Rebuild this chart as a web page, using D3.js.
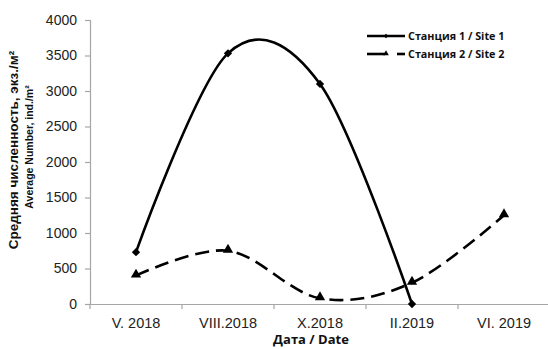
<!DOCTYPE html>
<html>
<head>
<meta charset="utf-8">
<script src="https://cdn.jsdelivr.net/npm/d3@7"></script>
<style>
  body { margin: 0; background: #fff; }
  svg { display: block; }
</style>
</head>
<body>
<svg id="chart" width="548" height="349"></svg>
<script>
// Sampling dates and mean abundance at two sites (ind./m²)
const dates = ["V. 2018", "VIII.2018", "X.2018", "II.2019", "VI. 2019"];
const site1 = [730, 3530, 3100, 0, null];
const site2 = [400, 750, 80, 300, 1250];
const yTicks = [0, 500, 1000, 1500, 2000, 2500, 3000, 3500, 4000];
const seriesNames = ["Станция 1 / Site 1", "Станция 2 / Site 2"];

const svg = d3.select("#chart");
const m = { left: 90 };

const x = d3.scaleBand().domain(dates).range([m.left, 550]);
const y = d3.scaleLinear().domain([0, 4000]).range([304, 20]);

const axisColor = "#a6a6a6";
const labelFont = "Liberation Sans, Arial, sans-serif";

// Y axis
const yAxis = svg.append("g").attr("transform", `translate(${m.left},0)`)
  .call(d3.axisLeft(y).tickValues(yTicks).tickSize(5).tickPadding(8).tickFormat(d3.format("d")));
yAxis.select(".domain").attr("stroke", axisColor).attr("stroke-width", 1.2);
yAxis.selectAll(".tick line").attr("stroke", axisColor).attr("stroke-width", 1.2);
yAxis.selectAll(".tick text").attr("font-family", labelFont).attr("font-size", 14).attr("fill", "#222");

// X axis: ticks between categories
const xAxis = svg.append("g").attr("transform", `translate(0,${y(0)})`)
  .call(d3.axisBottom(x).tickSize(0).tickPadding(14));
xAxis.select(".domain").attr("stroke", axisColor).attr("stroke-width", 1.2);
xAxis.selectAll(".tick text").attr("font-family", labelFont).attr("font-size", 14.5).attr("fill", "#222");
const bounds = dates.map(d => x(d)).concat([x(dates[dates.length - 1]) + x.bandwidth()]);
xAxis.selectAll("line.sep").data(bounds).join("line")
  .attr("class", "sep")
  .attr("x1", d => d).attr("x2", d => d)
  .attr("y1", 0).attr("y2", 5)
  .attr("stroke", axisColor).attr("stroke-width", 1.2);

// Axis titles
svg.append("text")
  .attr("transform", "translate(18,150) rotate(-90)")
  .attr("text-anchor", "middle")
  .attr("font-family", labelFont).attr("font-weight", "bold").attr("font-size", 13.5)
  .attr("fill", "#111")
  .text("Средняя численность, экз./м²");
svg.append("text")
  .attr("transform", "translate(33,147) rotate(-90)")
  .attr("text-anchor", "middle")
  .attr("font-family", labelFont).attr("font-weight", "bold").attr("font-size", 10.5)
  .attr("fill", "#111")
  .text("Average Number, ind./m²");
svg.append("text")
  .attr("x", 311).attr("y", 344)
  .attr("text-anchor", "middle")
  .attr("font-family", "Open Sans, sans-serif").attr("font-weight", "bold").attr("font-size", 13)
  .attr("fill", "#111")
  .text("Дата / Date");

const cx = d => x(d) + x.bandwidth() / 2;
const line = d3.line()
  .defined(d => d.v != null)
  .x(d => cx(d.date)).y(d => y(d.v))
  .curve(d3.curveCardinal.tension(0));

const s1 = dates.map((d, i) => ({ date: d, v: site1[i] })).filter(d => d.v != null);
const s2 = dates.map((d, i) => ({ date: d, v: site2[i] }));

svg.append("path").datum(s1).attr("d", line)
  .attr("fill", "none").attr("stroke", "#000").attr("stroke-width", 2.6);
svg.append("path").datum(s2).attr("d", line)
  .attr("fill", "none").attr("stroke", "#000").attr("stroke-width", 2.6)
  .attr("stroke-dasharray", "14,7");

const diamond = d3.symbol().type(d3.symbolDiamond2).size(44);
const triangle = d3.symbol().type(d3.symbolTriangle).size(46);

svg.selectAll("path.m1").data(s1).join("path").attr("class", "m1")
  .attr("d", diamond)
  .attr("transform", d => `translate(${cx(d.date)},${y(d.v)})`)
  .attr("fill", "#000");
svg.selectAll("path.m2").data(s2).join("path").attr("class", "m2")
  .attr("d", triangle)
  .attr("transform", d => `translate(${cx(d.date)},${y(d.v) - 1})`)
  .attr("fill", "#000");

// Legend
const leg = svg.append("g");
const legY = [36, 54];
leg.append("line").attr("x1", 367).attr("x2", 405).attr("y1", legY[0]).attr("y2", legY[0])
  .attr("stroke", "#000").attr("stroke-width", 2.6);
leg.append("path").attr("d", d3.symbol().type(d3.symbolDiamond2).size(14))
  .attr("transform", `translate(386,${legY[0]})`).attr("fill", "#000");
leg.append("line").attr("x1", 367).attr("x2", 385).attr("y1", legY[1]).attr("y2", legY[1])
  .attr("stroke", "#000").attr("stroke-width", 2.6);
leg.append("line").attr("x1", 397).attr("x2", 405).attr("y1", legY[1]).attr("y2", legY[1])
  .attr("stroke", "#000").attr("stroke-width", 2.6);
leg.append("path").attr("d", d3.symbol().type(d3.symbolTriangle).size(14))
  .attr("transform", `translate(386,${legY[1] - 0.5})`).attr("fill", "#000");
leg.selectAll("text").data(seriesNames).join("text")
  .attr("x", 408).attr("y", (d, i) => legY[i] + 4)
  .attr("font-family", "Open Sans, sans-serif").attr("font-weight", "bold").attr("font-size", 10.8)
  .attr("fill", "#111")
  .text(d => d);
</script>
</body>
</html>
